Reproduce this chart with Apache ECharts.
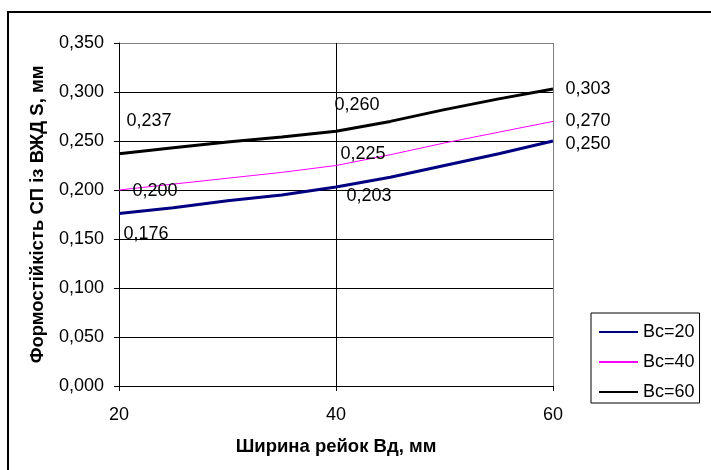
<!DOCTYPE html>
<html>
<head>
<meta charset="utf-8">
<script src="https://cdn.jsdelivr.net/npm/echarts@6/dist/echarts.min.js"></script>
<style>
  html, body { margin: 0; padding: 0; background: #fff; }
  #chart { width: 711px; height: 470px; }
</style>
</head>
<body>
<div id="chart"></div>
<script>
// Rail width Вд, mm
const widths = [20, 25, 30, 35, 40, 45, 50, 55, 60];
// Shape stability S, mm, for each Bc
const bc20 = [0.176, 0.182, 0.189, 0.195, 0.203, 0.213, 0.225, 0.237, 0.250];
const bc40 = [0.200, 0.206, 0.212, 0.218, 0.225, 0.236, 0.248, 0.259, 0.270];
const bc60 = [0.237, 0.243, 0.249, 0.254, 0.260, 0.270, 0.282, 0.293, 0.303];
const seriesNames = ['Bc=20', 'Bc=40', 'Bc=60'];
// points that carry a value label
const labelledIdx = [0, 4, 8];

// label placement for each labelled point, offsets in px from the point
const labelOffsets = [
  [[27, 21], [33, 9], [35, 3]],
  [[36, 1], [27, -11], [35, 0]],
  [[30, -33], [21, -26], [35, 0]]
];
const lineColors = ['#000080', '#FF00FF', '#000000'];
const lineWidths = [3, 1, 3];

const FONT = '"Liberation Sans", Arial, sans-serif';
const fmt = v => v.toFixed(3).replace('.', ',');

const allValues = [bc20, bc40, bc60];
const series = allValues.map((vals, s) => ({
  name: seriesNames[s],
  type: 'line',
  symbol: 'circle',
  symbolSize: 0,
  silent: true,
  lineStyle: { color: lineColors[s], width: lineWidths[s] },
  itemStyle: { color: lineColors[s] },
  label: {
    show: false,
    position: 'inside',
    align: 'center',
    verticalAlign: 'middle',
    color: '#000',
    fontFamily: FONT,
    fontSize: 18,
    formatter: p => fmt(p.value[1])
  },
  data: widths.map((w, i) => {
    const k = labelledIdx.indexOf(i);
    const item = { value: [w, vals[i]] };
    if (k >= 0) item.label = { show: true, offset: labelOffsets[s][k] };
    return item;
  })
}));

const chart = echarts.init(document.getElementById('chart'), null, { renderer: 'canvas' });
chart.setOption({
  animation: false,
  backgroundColor: '#fff',
  textStyle: { fontFamily: FONT },
  graphic: [{
    type: 'rect',
    shape: { x: 8, y: 12, width: 800, height: 600 },
    style: { fill: null, stroke: '#000', lineWidth: 2 },
    silent: true
  }],
  grid: { left: 119, top: 43, right: 158, bottom: 84, containLabel: false },
  legend: {
    orient: 'vertical',
    left: 591,
    top: 313,
    data: seriesNames,
    itemWidth: 39,
    itemHeight: 18,
    itemGap: 12,
    padding: [10, 5, 2, 7],
    borderColor: '#000',
    borderWidth: 1,
    itemStyle: { opacity: 0 },
    textStyle: { color: '#000', fontFamily: FONT, fontSize: 18 },
    selectedMode: false
  },
  xAxis: {
    type: 'value',
    min: 20,
    max: 60,
    interval: 20,
    name: 'Ширина рейок Вд, мм',
    nameLocation: 'middle',
    nameGap: 51,
    nameTextStyle: { color: '#000', fontFamily: FONT, fontSize: 18.5, fontWeight: 'bold' },
    axisLine: { show: true, lineStyle: { color: '#000', width: 1 } },
    axisTick: { show: true, length: 5, lineStyle: { color: '#000' } },
    axisLabel: { color: '#000', fontFamily: FONT, fontSize: 18, margin: 20 },
    splitLine: { show: true, lineStyle: { color: ['#000', '#000', '#808080'], width: 1 } }
  },
  yAxis: {
    type: 'value',
    min: 0,
    max: 0.35,
    interval: 0.05,
    name: 'Формостійкість СП із ВЖД S, мм',
    nameLocation: 'middle',
    nameGap: 72,
    nameTextStyle: { color: '#000', fontFamily: FONT, fontSize: 18.5, fontWeight: 'bold' },
    axisLine: { show: true, lineStyle: { color: '#000', width: 1 } },
    axisTick: { show: true, length: 5, lineStyle: { color: '#000' } },
    axisLabel: { color: '#000', fontFamily: FONT, fontSize: 18, margin: 15, formatter: v => fmt(v) },
    splitLine: { show: true, lineStyle: { color: ['#000', '#000', '#000', '#000', '#000', '#000', '#000', '#808080'], width: 1 } }
  },
  series: series
});
</script>
</body>
</html>
